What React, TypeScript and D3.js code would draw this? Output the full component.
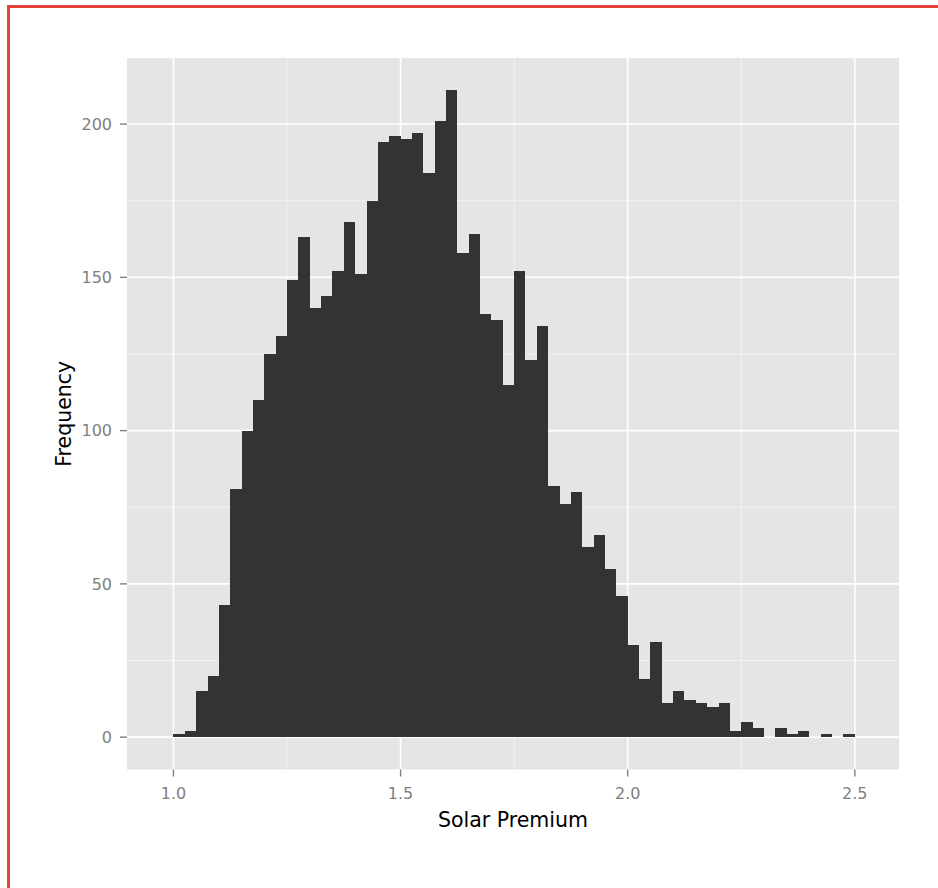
import * as d3 from "d3";

// histogram of solar premium, binwidth 0.025 starting at 1.0
const binStart = 1.0;
const binWidth = 0.025;
const counts = [
  1, 2, 15, 20, 43, 81, 100, 110, 125, 131,
  149, 163, 140, 144, 152, 168, 151, 175, 194, 196,
  195, 197, 184, 201, 211, 158, 164, 138, 136, 115,
  152, 123, 134, 82, 76, 80, 62, 66, 55, 46,
  30, 19, 31, 11, 15, 12, 11, 10, 11, 2,
  5, 3, 0, 3, 1, 2, 0, 1, 0, 1,
];

const xTicks = [1.0, 1.5, 2.0, 2.5];
const xMinor = [1.25, 1.75, 2.25];
const yTicks = [0, 50, 100, 150, 200];
const yMinor = [25, 75, 125, 175];
const xLimits = [0.975, 2.52];

const W = 938;
const H = 888;
const panel = { left: 127, top: 58, right: 899, bottom: 769.5 };

export default function App() {
  const xSpan = xLimits[1] - xLimits[0];
  const x = d3
    .scaleLinear()
    .domain([xLimits[0] - xSpan * 0.05, xLimits[1] + xSpan * 0.05])
    .range([panel.left, panel.right]);
  const yMax = d3.max(counts)!;
  const y = d3
    .scaleLinear()
    .domain([-yMax * 0.05, yMax * 1.05])
    .range([panel.bottom, panel.top]);

  const font = "'DejaVu Sans', Verdana, sans-serif";

  return (
    <div style={{ position: "fixed", left: 0, top: 0 }}>
      <svg width={W} height={H} style={{ display: "block", background: "#fff" }}>
        {/* frame of the screenshot */}
        <rect x={7} y={5} width={W} height={3} fill="#e5433a" />
        <rect x={7} y={5} width={3} height={H} fill="#e5433a" />

        <rect
          x={panel.left}
          y={panel.top}
          width={panel.right - panel.left}
          height={panel.bottom - panel.top}
          fill="#e5e5e5"
        />

        {/* minor grid */}
        {xMinor.map((v) => (
          <line key={"xm" + v} x1={x(v)} x2={x(v)} y1={panel.top} y2={panel.bottom} stroke="#f2f2f2" strokeWidth={1} />
        ))}
        {yMinor.map((v) => (
          <line key={"ym" + v} x1={panel.left} x2={panel.right} y1={y(v)} y2={y(v)} stroke="#f2f2f2" strokeWidth={1} />
        ))}
        {/* major grid */}
        {xTicks.map((v) => (
          <line key={"xg" + v} x1={x(v)} x2={x(v)} y1={panel.top} y2={panel.bottom} stroke="#fff" strokeWidth={1.6} />
        ))}
        {yTicks.map((v) => (
          <line key={"yg" + v} x1={panel.left} x2={panel.right} y1={y(v)} y2={y(v)} stroke="#fff" strokeWidth={1.6} />
        ))}

        {/* bars, snapped to whole pixels so neighbours don't leave seams */}
        <g shapeRendering="crispEdges">
          {counts.map((c, i) => {
            if (c === 0) return null;
            const x0 = Math.round(x(binStart + i * binWidth));
            const x1 = Math.round(x(binStart + (i + 1) * binWidth));
            const y0 = Math.round(y(0));
            const yt = Math.round(y(c));
            return (
              <rect key={i} x={x0} y={yt} width={x1 - x0} height={Math.max(1, y0 - yt)} fill="#333333" />
            );
          })}
        </g>

        {/* x axis */}
        {xTicks.map((v) => (
          <g key={"xt" + v}>
            <line x1={x(v)} x2={x(v)} y1={panel.bottom} y2={panel.bottom + 7} stroke="#7f7f7f" strokeWidth={1.4} />
            <text
              x={x(v)}
              y={799}
              textAnchor="middle"
              fontFamily={font}
              fontSize={16}
              fill="#7f7f7f"
            >
              {d3.format(".1f")(v)}
            </text>
          </g>
        ))}
        {/* y axis */}
        {yTicks.map((v) => (
          <g key={"yt" + v}>
            <line x1={panel.left - 7} x2={panel.left} y1={y(v)} y2={y(v)} stroke="#7f7f7f" strokeWidth={1.4} />
            <text
              x={112}
              y={y(v)}
              dy="0.36em"
              textAnchor="end"
              fontFamily={font}
              fontSize={16}
              fill="#7f7f7f"
            >
              {v}
            </text>
          </g>
        ))}

        <text
          x={(panel.left + panel.right) / 2}
          y={827}
          textAnchor="middle"
          fontFamily={font}
          fontSize={20.5}
          fill="#000"
        >
          Solar Premium
        </text>
        <text
          transform={`translate(71,${(panel.top + panel.bottom) / 2}) rotate(-90)`}
          textAnchor="middle"
          fontFamily={font}
          fontSize={20.5}
          fill="#000"
        >
          Frequency
        </text>
      </svg>
    </div>
  );
}
